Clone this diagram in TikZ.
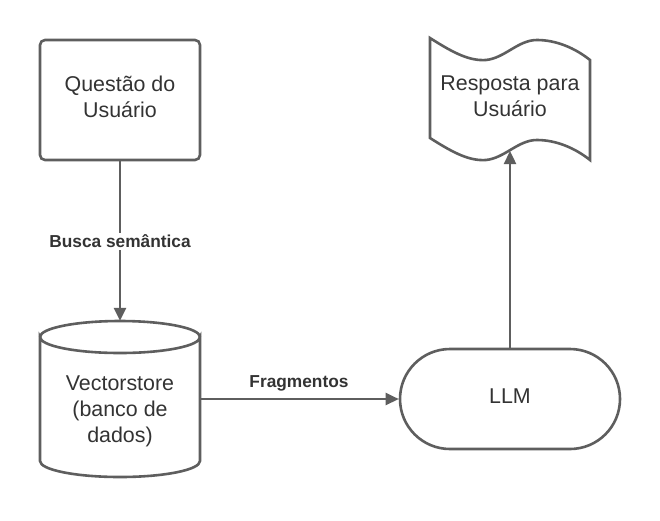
\documentclass[tikz,border=0pt]{standalone}
\usepackage{fontspec}
\setmainfont{Liberation Sans}
\usetikzlibrary{arrows.meta}
\definecolor{ln}{HTML}{5E5E5E}
\definecolor{tx}{HTML}{333333}
\tikzset{
  shapeline/.style={draw=ln, line width=2.6pt, fill=white},
  maintext/.style={text=tx, align=center, font=\fontsize{21.4}{26}\selectfont, inner sep=0pt},
  lbl/.style={text=tx, font=\bfseries\fontsize{17.3}{20}\selectfont, fill=white, inner sep=2pt},
  conn/.style={draw=ln, line width=2.4pt, -{Triangle[length=13pt,width=12pt]}},
}
\begin{document}
\begin{tikzpicture}[x=1pt,y=-1pt]
\useasboundingbox[fill=white] (0,0) rectangle (660,520);

% Questao box
\node[shapeline, rounded corners=5pt, minimum width=160pt, minimum height=120pt] (q) at (120,100) {};
\node[maintext] (qt) at (120,97) {Questão do\\Usuário};

% Cylinder
\node[minimum width=160pt, minimum height=156pt, inner sep=0pt] (vs) at (120,399) {};
\path[shapeline] (40,337) -- (40,461) arc[start angle=180, end angle=360, x radius=80, y radius=-16] -- (200,337) arc[start angle=0, end angle=-180, x radius=80, y radius=-16] -- cycle;
\draw[draw=ln, line width=2.6pt] (40,337) arc[start angle=180, end angle=360, x radius=80, y radius=16];
\node[maintext] (vst) at (120,411) {Vectorstore\\(banco de\\dados)};

% LLM
\node[shapeline, rounded corners=50pt, minimum width=220pt, minimum height=100pt] (llm) at (510,399) {};
\node[maintext] (llmt) at (510,396) {LLM};

% Resposta (tape shape)
\path[shapeline] (430,38) .. controls (455,54) and (470,61) .. (486,60)
  .. controls (505,58) and (518,40) .. (537,40)
  .. controls (556,40) and (575,48) .. (590,60)
  -- (590,160)
  .. controls (575,148) and (556,140) .. (537,140)
  .. controls (518,140) and (505,158) .. (486,160)
  .. controls (470,161) and (455,154) .. (430,138) -- cycle;
\node[maintext] (rt) at (510,96) {Resposta para\\Usuário};
\coordinate (rb) at (510,151);

% Connectors
\draw[conn] (q.south) -- node[lbl] (l1) {Busca semântica} (vs.north);
\draw[conn] (vs.east) -- (llm.west);
\node[lbl, fill=none] (l2) at (299,383) {Fragmentos};
\draw[conn] (llm.north) -- (rb);
\end{tikzpicture}
\end{document}
